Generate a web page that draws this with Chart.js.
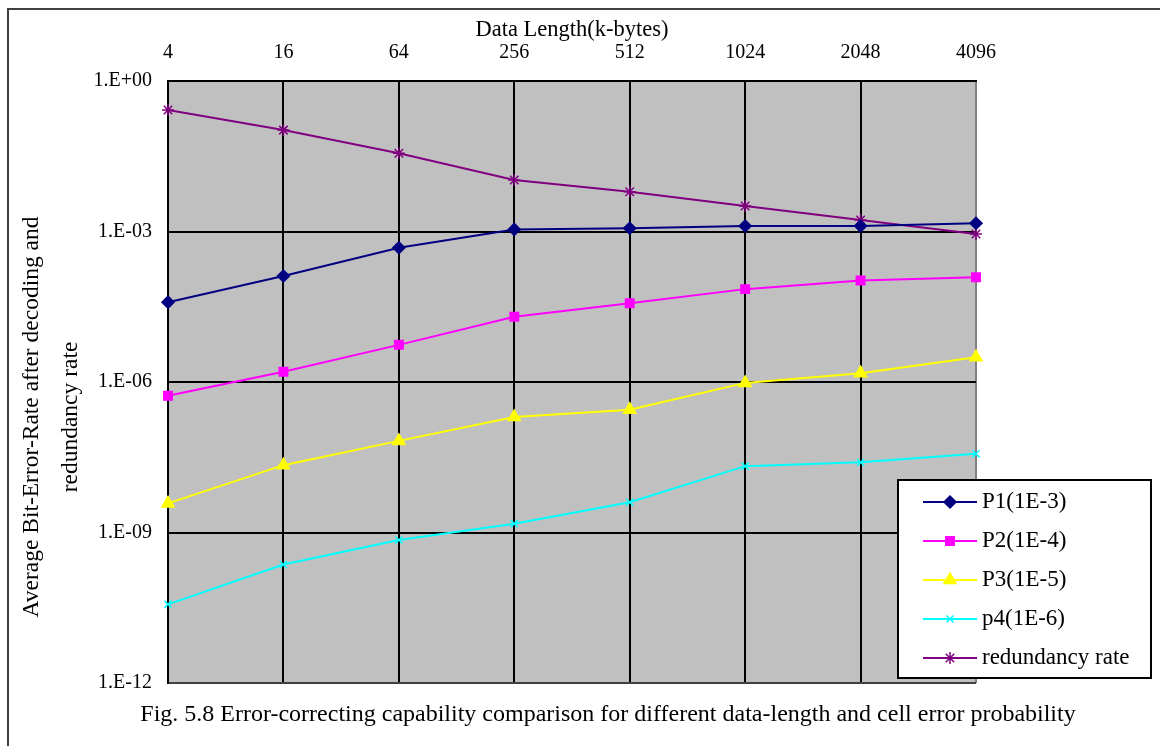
<!DOCTYPE html>
<html>
<head>
<meta charset="utf-8">
<script src="https://cdn.jsdelivr.net/npm/chart.js"></script>
<style>
  body { margin: 0; background: #fff; }
  canvas { display: block; }
</style>
</head>
<body>
<canvas id="chart" width="1160" height="746"></canvas>
<script>
// data length in k-bytes (top axis)
const dataLength = ['4', '16', '64', '256', '512', '1024', '2048', '4096'];

// average bit error rate after decoding, per cell error probability
const p1 = [3.9e-5, 1.3e-4, 4.75e-4, 1.1e-3, 1.16e-3, 1.29e-3, 1.29e-3, 1.46e-3];
const p2 = [5.3e-7, 1.6e-6, 5.5e-6, 2.0e-5, 3.7e-5, 7.1e-5, 1.05e-4, 1.22e-4];
const p3 = [3.8e-9, 2.2e-8, 6.7e-8, 2.0e-7, 2.8e-7, 9.6e-7, 1.5e-6, 3.1e-6];
const p4 = [3.7e-11, 2.3e-10, 7.1e-10, 1.5e-9, 4.0e-9, 2.1e-8, 2.5e-8, 3.7e-8];
const redundancy = [0.264, 0.105, 0.0362, 0.0106, 0.0062, 0.00322, 0.00169, 0.00089];

const yTicks = [1e-12, 1e-9, 1e-6, 1e-3, 1];

const serif = '"Liberation Serif", "Times New Roman", serif';
const yTitle = ['Average Bit-Error-Rate after decoding and', 'redundancy rate'];
const caption = 'Fig. 5.8 Error-correcting capability comparison for different data-length and cell error probability';

function series(label, data, color, style, radius) {
    return {
        label: label,
        data: data,
        borderColor: color,
        backgroundColor: color,
        pointBackgroundColor: color,
        pointBorderColor: color,
        pointStyle: style,
        pointRadius: radius,
        pointHoverRadius: radius,
        pointBorderWidth: 1.5,
        borderWidth: 2,
        tension: 0,
        clip: false
    };
}

// frame, gray plot area, y title, caption and the boxed legend
const decor = {
    id: 'decor',
    beforeDraw(chart) {
        const c = chart.ctx;
        const a = chart.chartArea;
        c.save();
        c.fillStyle = '#fff';
        c.fillRect(0, 0, chart.width, chart.height);
        c.strokeStyle = '#404040';
        c.lineWidth = 2;
        c.beginPath();
        c.moveTo(8, chart.height);
        c.lineTo(8, 9);
        c.lineTo(chart.width, 9);
        c.stroke();
        c.fillStyle = '#c0c0c0';
        c.fillRect(a.left, a.top, a.right - a.left, a.bottom - a.top);
        c.restore();
    },
    afterDraw(chart) {
        const c = chart.ctx;
        c.save();
        c.fillStyle = '#000';
        c.textAlign = 'center';
        c.textBaseline = 'middle';

        c.save();
        c.font = '23.5px ' + serif;
        c.translate(32, 417);
        c.rotate(-Math.PI / 2);
        c.fillText(yTitle[0], 0, 0);
        c.fillText(yTitle[1], 0, 39);
        c.restore();

        c.font = '24px ' + serif;
        c.fillText(caption, 608, 715);

        // legend box
        const bx = 898, by = 480, bw = 253, bh = 198;
        c.fillStyle = '#fff';
        c.fillRect(bx, by, bw, bh);
        c.strokeStyle = '#000';
        c.lineWidth = 2;
        c.strokeRect(bx, by, bw, bh);
        c.textAlign = 'left';
        c.font = '23px ' + serif;
        chart.data.datasets.forEach((ds, i) => {
            const y = 502 + i * 39;
            c.strokeStyle = ds.borderColor;
            c.lineWidth = 2;
            c.beginPath();
            c.moveTo(923, y);
            c.lineTo(977, y);
            c.stroke();
            c.fillStyle = ds.borderColor;
            c.lineWidth = 1.5;
            Chart.helpers.drawPoint(c, {pointStyle: ds.pointStyle, radius: ds.pointRadius, rotation: 0, borderWidth: 1.5}, 950, y);
            c.fillStyle = '#000';
            c.fillText(ds.label, 982, y);
        });
        c.restore();
    }
};

const chart = new Chart(document.getElementById('chart'), {
    type: 'line',
    data: {
        labels: dataLength,
        datasets: [
            series('P1(1E-3)', p1, '#000080', 'rectRot', 6),
            series('P2(1E-4)', p2, '#ff00ff', 'rect', 6),
            series('P3(1E-5)', p3, '#ffff00', 'triangle', 7),
            series('p4(1E-6)', p4, '#00ffff', 'crossRot', 5),
            series('redundancy rate', redundancy, '#800080', 'star', 6)
        ]
    },
    options: {
        responsive: false,
        animation: false,
        events: [],
        layout: {
            padding: {top: 10, left: 0, right: 184, bottom: 63}
        },
        plugins: {
            legend: {display: false},
            tooltip: {enabled: false}
        },
        scales: {
            x: {
                type: 'category',
                position: 'top',
                offset: false,
                afterFit(scale) { scale.height = 71; },
                grid: {
                    color: (ctx) => ctx.index === dataLength.length - 1 ? '#808080' : '#000',
                    lineWidth: 2,
                    drawTicks: false
                },
                border: {color: '#000', width: 2},
                ticks: {
                    color: '#000',
                    font: {family: serif, size: 20},
                    padding: 16,
                    maxRotation: 0
                },
                title: {
                    display: true,
                    text: 'Data Length(k-bytes)',
                    color: '#000',
                    font: {family: serif, size: 22.5},
                    padding: {top: 7, bottom: 0}
                }
            },
            y: {
                type: 'logarithmic',
                min: 1e-12,
                max: 1,
                afterFit(scale) { scale.width = 168; },
                afterBuildTicks(scale) {
                    scale.ticks = yTicks.map(v => ({value: v}));
                },
                grid: {
                    color: (ctx) => ctx.index === 0 ? '#404040' : '#000',
                    lineWidth: 2,
                    drawTicks: false
                },
                border: {color: '#000', width: 2},
                ticks: {
                    color: '#000',
                    font: {family: serif, size: 20},
                    padding: 16,
                    callback(value) {
                        const e = Math.round(Math.log10(value));
                        const s = e < 0 ? '-' : '+';
                        return '1.E' + s + String(Math.abs(e)).padStart(2, '0');
                    }
                }
            }
        }
    },
    plugins: [decor]
});
</script>
</body>
</html>
